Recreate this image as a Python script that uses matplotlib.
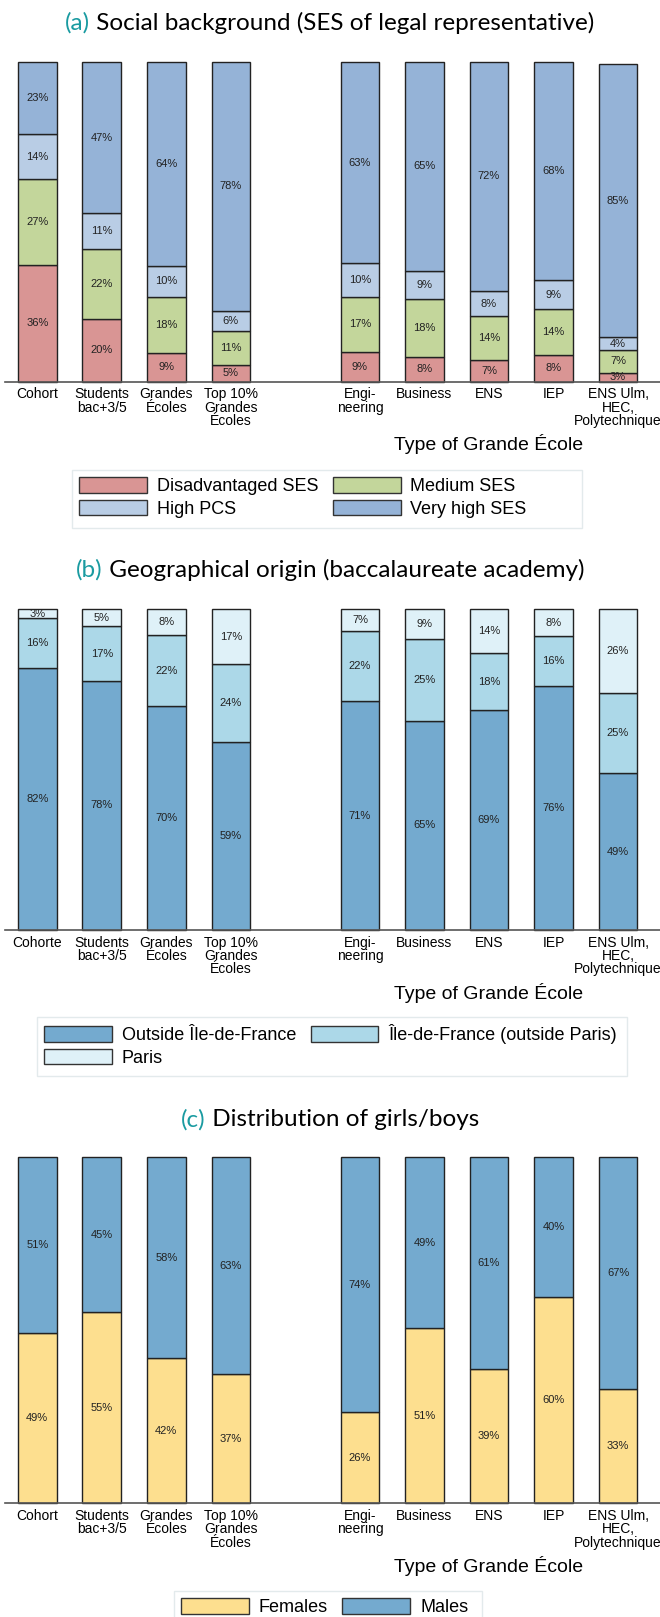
import matplotlib
matplotlib.use("Agg")
import matplotlib.pyplot as plt
from matplotlib.patches import Patch, Rectangle

plt.rcParams['font.family'] = ['Liberation Sans', 'DejaVu Sans']

W, H = 660, 1617
TEAL = '#1a9ba1'

positions = [0, 1, 2, 3, 5, 6, 7, 8, 9]
labels_a = ["Cohort", "Students\nbac+3/5", "Grandes\nÉcoles", "Top 10%\nGrandes\nÉcoles",
            "Engi-\nneering", "Business", "ENS", "IEP", "ENS Ulm,\nHEC,\nPolytechnique"]
labels_b = ["Cohorte"] + labels_a[1:]

# (a) SES of legal representative, in %
ses_disadv = [36.4, 19.6, 8.9, 5.1, 9.2, 7.8, 6.8, 8.2, 2.8]
ses_medium = [26.9, 22.0, 17.7, 10.6, 17.4, 17.9, 13.6, 14.4, 7.1]
ses_high = [14.0, 11.0, 9.6, 6.4, 10.4, 8.9, 8.0, 9.1, 4.0]
ses_vhigh = [22.7, 47.4, 63.8, 77.9, 63.0, 65.4, 71.6, 68.3, 85.4]

# (b) baccalaureate academy, in %
geo_outside = [81.6, 77.7, 69.8, 58.7, 71.4, 65.3, 68.6, 76.1, 48.9]
geo_idf = [15.7, 17.0, 22.2, 24.3, 21.7, 25.3, 17.7, 15.6, 25.1]
geo_paris = [2.7, 5.3, 8.0, 17.0, 6.9, 9.4, 13.7, 8.3, 26.0]

# (c) girls / boys, in %
females = [49.2, 55.3, 42.0, 37.3, 26.3, 50.6, 38.7, 59.6, 32.9]
males = [50.8, 44.7, 58.0, 62.7, 73.7, 49.4, 61.3, 40.4, 67.1]

fig = plt.figure(figsize=(W / 100, H / 100), dpi=100)


def make_ax(base_px, top_px, ticklabels):
    ax = fig.add_axes([5 / W, 1 - base_px / H, 655 / W, (base_px - top_px) / H])
    ax.set_xlim(-0.5, 9.65)
    ax.set_ylim(0, 100)
    for s in ['top', 'left', 'right']:
        ax.spines[s].set_visible(False)
    ax.spines['bottom'].set_color('#555555')
    ax.spines['bottom'].set_linewidth(1.2)
    ax.set_yticks([])
    ax.set_xticks(positions)
    ax.set_xticklabels(ticklabels, fontsize=10, linespacing=0.95)
    ax.tick_params(axis='x', length=0, pad=4)
    ax.annotate("Type of Grande École", xy=(7, 0), xycoords=('data', 'axes fraction'),
                xytext=(0, -45), textcoords='offset points', ha='center', va='center',
                fontsize=14)
    return ax


def stack(ax, series, colors):
    bottom = [0] * len(positions)
    for vals, col in zip(series, colors):
        ax.bar(positions, vals, bottom=bottom, width=0.6, color=col,
               edgecolor='#222222', linewidth=1, clip_on=False, zorder=2)
        for x, b, v in zip(positions, bottom, vals):
            ax.text(x, b + v / 2, "%.0f%%" % v, ha='center', va='center',
                    fontsize=8, color='#222222', zorder=3)
        bottom = [b + v for b, v in zip(bottom, vals)]


def title(y_px, tag, rest):
    t1 = fig.text(0.3, 1 - y_px / H, tag, color=TEAL, fontsize=17.5, family='Lato',
                  va='center')
    t2 = fig.text(0, 0, rest, fontsize=17.5, family='Lato', va='center')
    fig.canvas.draw()
    r = fig.canvas.get_renderer()
    w1 = t1.get_window_extent(r).width
    w2 = t2.get_window_extent(r).width
    x0 = (W - w1 - w2) / 2
    t1.set_x(x0 / W)
    t2.set_position(((x0 + w1) / W, 1 - y_px / H))


def legend(handles, x_px, y_px, w_px, h_px):
    fig.patches.append(Rectangle((x_px / W, 1 - (y_px + h_px) / H), w_px / W, h_px / H,
                                 transform=fig.transFigure, facecolor='none',
                                 edgecolor='#e3eaec', linewidth=1))
    fig.legend(handles=handles, loc='upper left', bbox_to_anchor=(x_px / W, 1 - y_px / H),
               ncol=2, frameon=False, fontsize=13, handlelength=3.75, handleheight=0.95,
               handletextpad=0.55, columnspacing=0.8, labelspacing=0.25, borderpad=0.4,
               borderaxespad=0)


# panel (a)
ax_a = make_ax(381.6, 61.9, labels_a)
c_a = ['#d99594', '#c3d69b', '#b9cde5', '#95b3d7']
stack(ax_a, [ses_disadv, ses_medium, ses_high, ses_vhigh], c_a)
title(23, "(a)", " Social background (SES of legal representative)")
legend([Patch(fc=c_a[0], ec='#333333', label="Disadvantaged SES"),
        Patch(fc=c_a[2], ec='#333333', label="High PCS"),
        Patch(fc=c_a[1], ec='#333333', label="Medium SES"),
        Patch(fc=c_a[3], ec='#333333', label="Very high SES")], 72, 470, 510, 58)

# panel (b)
ax_b = make_ax(930, 609.3, labels_b)
c_b = ['#74aacf', '#acd8e8', '#dff1f8']
stack(ax_b, [geo_outside, geo_idf, geo_paris], c_b)
title(570, "(b)", " Geographical origin (baccalaureate academy)")
legend([Patch(fc=c_b[0], ec='#333333', label="Outside Île-de-France"),
        Patch(fc=c_b[2], ec='#333333', label="Paris"),
        Patch(fc=c_b[1], ec='#333333', label="Île-de-France (outside Paris)")],
       37, 1017, 590, 59)

# panel (c)
ax_c = make_ax(1503.3, 1157.3, labels_a)
c_c = ['#fddf8f', '#74aacf']
stack(ax_c, [females, males], c_c)
title(1120, "(c)", " Distribution of girls/boys")
legend([Patch(fc=c_c[0], ec='#333333', label="Females"),
        Patch(fc=c_c[1], ec='#333333', label="Males")], 174, 1591, 308, 40)

fig.savefig("out.png", dpi=100)
